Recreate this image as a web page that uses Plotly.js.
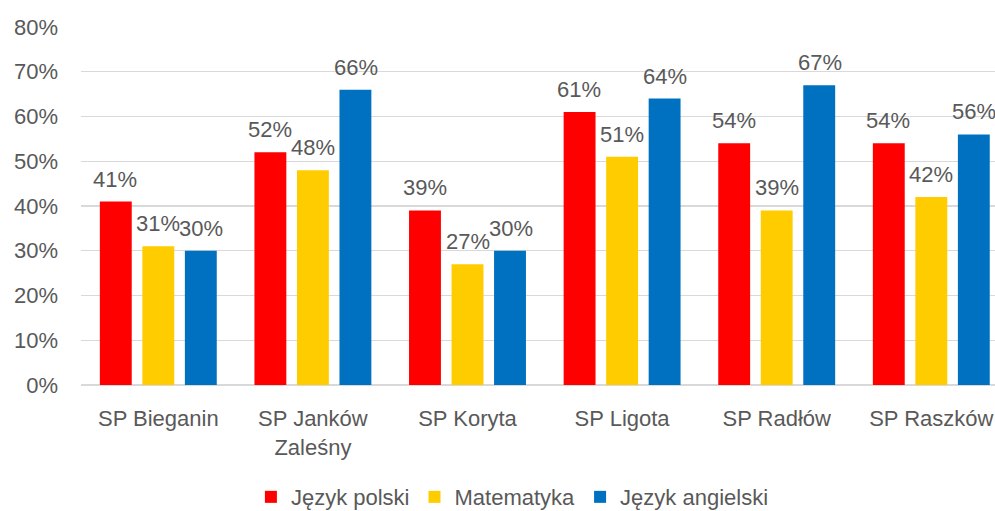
<!DOCTYPE html>
<html>
<head>
<meta charset="utf-8">
<script src="https://cdn.plot.ly/plotly-3.0.1.min.js"></script>
<style>html,body{margin:0;padding:0;background:#fff;}#chart{width:995px;height:511px;}</style>
</head>
<body>
<div id="chart"></div>
<script>
const categories = ["SP Bieganin", "SP Janków<br>Zaleśny", "SP Koryta", "SP Ligota", "SP Radłów", "SP Raszków"];
const seriesNames = ["Język polski", "Matematyka", "Język angielski"];
const polski = [0.41, 0.52, 0.39, 0.61, 0.54, 0.54];
const matematyka = [0.31, 0.48, 0.27, 0.51, 0.39, 0.42];
const angielski = [0.30, 0.66, 0.30, 0.64, 0.67, 0.56];
const yTickVals = [0, 0.1, 0.2, 0.3, 0.4, 0.5, 0.6, 0.7, 0.8];
const yTickText = ["0%", "10%", "20%", "30%", "40%", "50%", "60%", "70%", "80%"];

const colors = ["#FF0000", "#FFCC00", "#0070C0"];
const allValues = [polski, matematyka, angielski];
const font = {family: "Liberation Sans, Arial, sans-serif", size: 22, color: "#595959"};

const traces = allValues.map((vals, i) => ({
  type: "bar",
  name: seriesNames[i],
  x: categories,
  y: vals,
  marker: {color: colors[i]},
  hoverinfo: "none"
}));

const shifts = [-43, 0, 43];
const annotations = [];
allValues.forEach((vals, i) => {
  vals.forEach((v, j) => {
    annotations.push({
      x: categories[j], y: v, xref: "x", yref: "y",
      text: Math.round(v * 100) + "%",
      showarrow: false, xshift: shifts[i], yanchor: "bottom", yshift: 8,
      font: font
    });
  });
});

const layout = {
  width: 995, height: 511,
  margin: {l: 81, r: 0, t: 27, b: 126, autoexpand: false},
  paper_bgcolor: "#fff", plot_bgcolor: "#fff",
  font: font,
  bargap: 0.175, bargroupgap: 0.25, barmode: "group",
  xaxis: {
    type: "category", range: [-0.5, 5.412], showgrid: false, zeroline: false,
    showline: false, ticks: "", tickfont: font, ticklabelstandoff: 18, fixedrange: true,
    automargin: false
  },
  yaxis: {
    range: [0, 0.8], tickvals: yTickVals, ticktext: yTickText,
    showgrid: true, gridcolor: "#D9D9D9", gridwidth: 1.3,
    zeroline: true, zerolinecolor: "#D9D9D9", zerolinewidth: 1.3,
    showline: false, ticks: "", tickfont: font, ticklabelstandoff: 22, fixedrange: true,
    automargin: false
  },
  showlegend: true,
  legend: {
    orientation: "h", x: 0.472, xanchor: "center", y: -0.313, yanchor: "middle",
    font: font, traceorder: "normal"
  },
  annotations: annotations
};

Plotly.newPlot("chart", traces, layout, {displayModeBar: false, staticPlot: true});
</script>
</body>
</html>
